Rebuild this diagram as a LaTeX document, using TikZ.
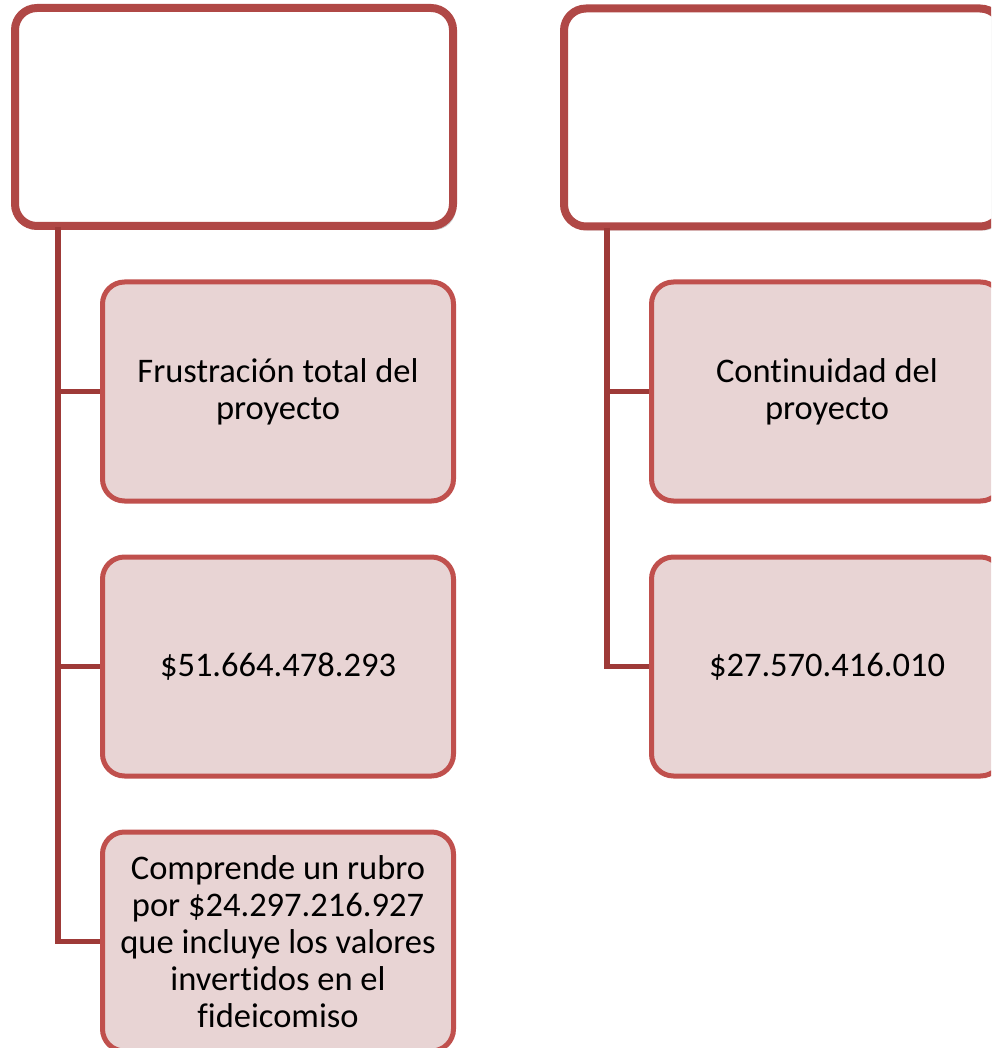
\documentclass[tikz,border=0pt]{standalone}
\usepackage{fontspec}
\setmainfont{Carlito}[Ligatures={NoCommon}]
\usetikzlibrary{shadows,calc}
\definecolor{topborder}{RGB}{176,72,70}
\definecolor{childborder}{RGB}{192,80,77}
\definecolor{childfill}{RGB}{232,212,212}
\definecolor{connred}{RGB}{158,58,56}
\tikzset{
  topbox/.style={draw=topborder, line width=8pt, fill=white, rounded corners=22pt,
    minimum width=438pt, minimum height=218pt, inner sep=0pt,
    drop shadow={shadow xshift=3pt, shadow yshift=-4pt, opacity=0.22, fill=black}},
  childbox/.style={draw=childborder, line width=5pt, fill=childfill, rounded corners=22pt,
    minimum width=351pt, minimum height=219pt, inner sep=0pt, align=center,
    font=\fontsize{34.5pt}{37pt}\selectfont},
  conn/.style={draw=connred, line width=5.5pt}
}
\begin{document}
\begin{tikzpicture}[x=1pt,y=-1pt]
\useasboundingbox (0,0) rectangle (991,1048);
\clip (0,0) rectangle (991,1048);
% top boxes
\node[topbox] (T1) at (234,117) {};
\node[topbox] (T2) at (783,117.5) {};
% connector start coordinates
\coordinate (c1) at (58,227);
\coordinate (c2) at (607,228);
% left children
\node[childbox] (A1) at (278,391.5) {Frustración total del\\proyecto};
\node[childbox] (A2) at (278,666.5) {\$51.664.478.293};
\node[childbox] (A3) at (278,941.5) {Comprende un rubro\\por \$24.297.216.927\\que incluye los valores\\invertidos en el\\fideicomiso};
% right children
\node[childbox] (B1) at (827,391.5) {Continuidad del\\proyecto};
\node[childbox] (B2) at (827,666.5) {\$27.570.416.010};
% connectors
\draw[conn] (c1) |- (A3.west);
\draw[conn] (c1 |- A1.west) -- (A1.west);
\draw[conn] (c1 |- A2.west) -- (A2.west);
\draw[conn] (c2) |- (B2.west);
\draw[conn] (c2 |- B1.west) -- (B1.west);
\end{tikzpicture}
\end{document}
